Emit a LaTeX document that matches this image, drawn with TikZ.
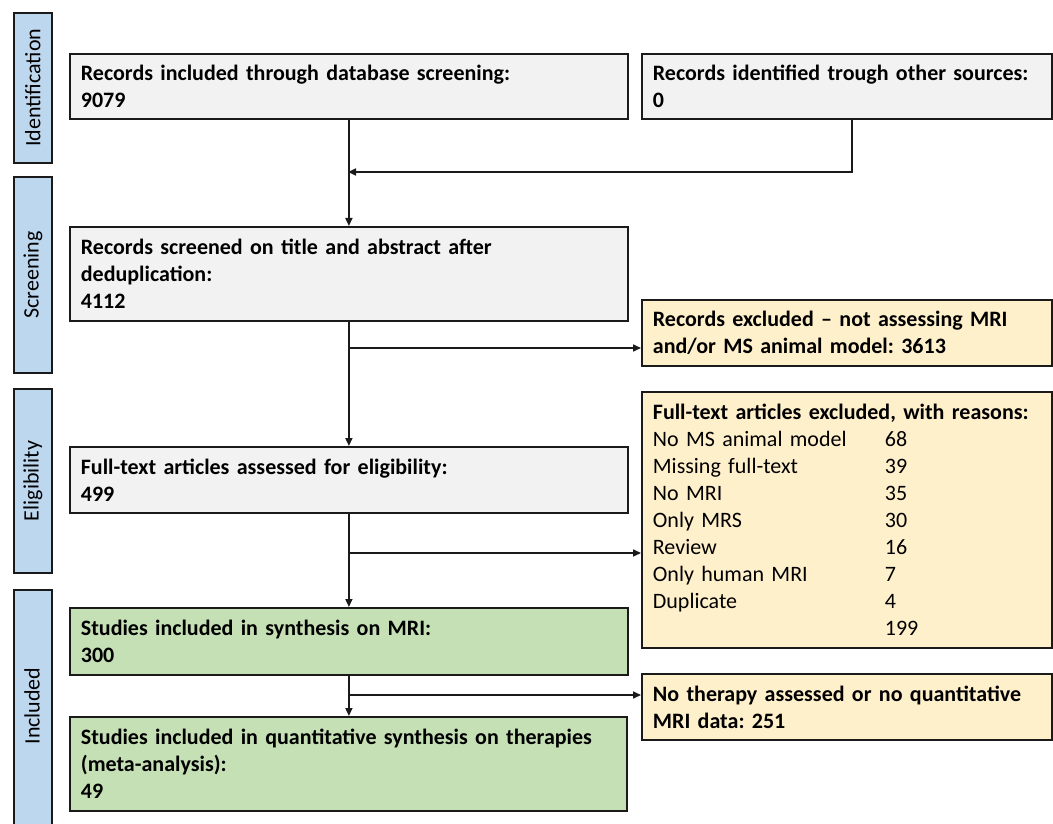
\documentclass[tikz,border=0pt]{standalone}
\usepackage{fontspec}
\setmainfont{Carlito}
\frenchspacing
\usetikzlibrary{arrows.meta,positioning}
\definecolor{boxgray}{HTML}{F2F2F2}
\definecolor{boxgreen}{HTML}{C5E0B4}
\definecolor{boxbeige}{HTML}{FFF0CC}
\definecolor{phaseblue}{HTML}{BDD7EE}
\definecolor{linecol}{HTML}{1A1A1A}
\begin{document}
\begin{tikzpicture}[x=1pt,y=-1pt,
  every node/.style={font=\fontsize{22}{27}\selectfont},
  flowbox/.style={draw=linecol,line width=1.8pt,anchor=north west,align=left,inner xsep=11pt,inner ysep=0pt},
  graybox/.style={flowbox,fill=boxgray,font=\fontsize{22}{27}\selectfont\bfseries},
  greenbox/.style={flowbox,fill=boxgreen,font=\fontsize{22}{27}\selectfont\bfseries},
  beigebox/.style={flowbox,fill=boxbeige,font=\fontsize{22}{27}\selectfont\bfseries},
  phase/.style={draw=linecol,line width=1.8pt,fill=phaseblue,anchor=north west,inner sep=0pt,minimum width=38pt},
  phasetext/.style={rotate=90,font=\fontsize{22}{26}\selectfont},
  arr/.style={draw=linecol,line width=1.6pt,-{Triangle[length=8pt,width=7pt]}},
  ln/.style={draw=linecol,line width=1.6pt}
]
\useasboundingbox (0,0) rectangle (1053,824);
\fill[white] (0,0) rectangle (1053,824);

% phase labels
\begin{scope}
\clip (0,0) rectangle (1053,824);
\node[phase,minimum height=150pt] (pid) at (13,12) {};
\node[phasetext] (pidt) at (pid.center) {Identification};
\node[phase,minimum height=196pt] (pscr) at (13,176) {};
\node[phasetext] (pscrt) at (pscr.center) {Screening};
\node[phase,minimum height=184pt] (pel) at (13,388) {};
\node[phasetext] (pelt) at (pel.center) {Eligibility};
\node[phase,minimum height=260pt] (pinc) at (13,589) {};
\node[phasetext] (pinct) at (13+19,706) {Included};
\end{scope}

% main column
\node[graybox,minimum width=558pt,minimum height=65pt,text width=536pt] (db) at (69,53)
  {Records included through database screening:\\9079};
\node[graybox,minimum width=410pt,minimum height=65pt,text width=388pt] (oth) at (641,53)
  {Records identified trough other sources:\\0};
\node[graybox,minimum width=558pt,minimum height=94pt,text width=536pt] (scr) at (69,226)
  {Records screened on title and abstract after\\deduplication:\\4112};
\node[beigebox,minimum width=410pt,minimum height=66pt,text width=388pt] (exa) at (641,299)
  {Records excluded -- not assessing MRI\\and/or MS animal model: 3613};
\node[graybox,minimum width=558pt,minimum height=66pt,text width=536pt] (ft) at (69,446)
  {Full-text articles assessed for eligibility:\\499};
\node[beigebox,minimum width=410pt,minimum height=256pt,text width=388pt] (exb) at (641,391)
  {Full-text articles excluded, with reasons:\\
   \mdseries\makebox[232pt][l]{No MS animal model}68\\
   \mdseries\makebox[232pt][l]{Missing full-text}39\\
   \mdseries\makebox[232pt][l]{No MRI}35\\
   \mdseries\makebox[232pt][l]{Only MRS}30\\
   \mdseries\makebox[232pt][l]{Review}16\\
   \mdseries\makebox[232pt][l]{Only human MRI}7\\
   \mdseries\makebox[232pt][l]{Duplicate}4\\
   \makebox[232pt][l]{}199};
\node[greenbox,minimum width=558pt,minimum height=67pt,text width=536pt] (syn) at (69,607)
  {Studies included in synthesis on MRI:\\300};
\node[beigebox,minimum width=410pt,minimum height=66pt,text width=388pt] (exc) at (641,673)
  {No therapy assessed or no quantitative\\MRI data: 251};
\node[greenbox,minimum width=557pt,minimum height=94pt,text width=535pt] (meta) at (69,716)
  {Studies included in quantitative synthesis on therapies\\(meta-analysis):\\49};

% junctions
\coordinate (jx) at (852,0);
\coordinate (j1) at (348,172);
\coordinate (b1) at (348,348);
\coordinate (b2) at (348,553);
\coordinate (b3) at (348,695);

% connectors
\draw[arr] (db) -- (scr);
\draw[arr] (oth.south -| jx) |- (j1);
\draw[arr] (scr) -- (ft);
\draw[arr] (b1) -- (b1 -| exa.west);
\draw[arr] (ft) -- (syn);
\draw[arr] (b2) -- (b2 -| exb.west);
\draw[arr] (syn) -- (meta.north -| syn.south);
\draw[arr] (b3) -- (b3 -| exc.west);
\end{tikzpicture}
\end{document}
